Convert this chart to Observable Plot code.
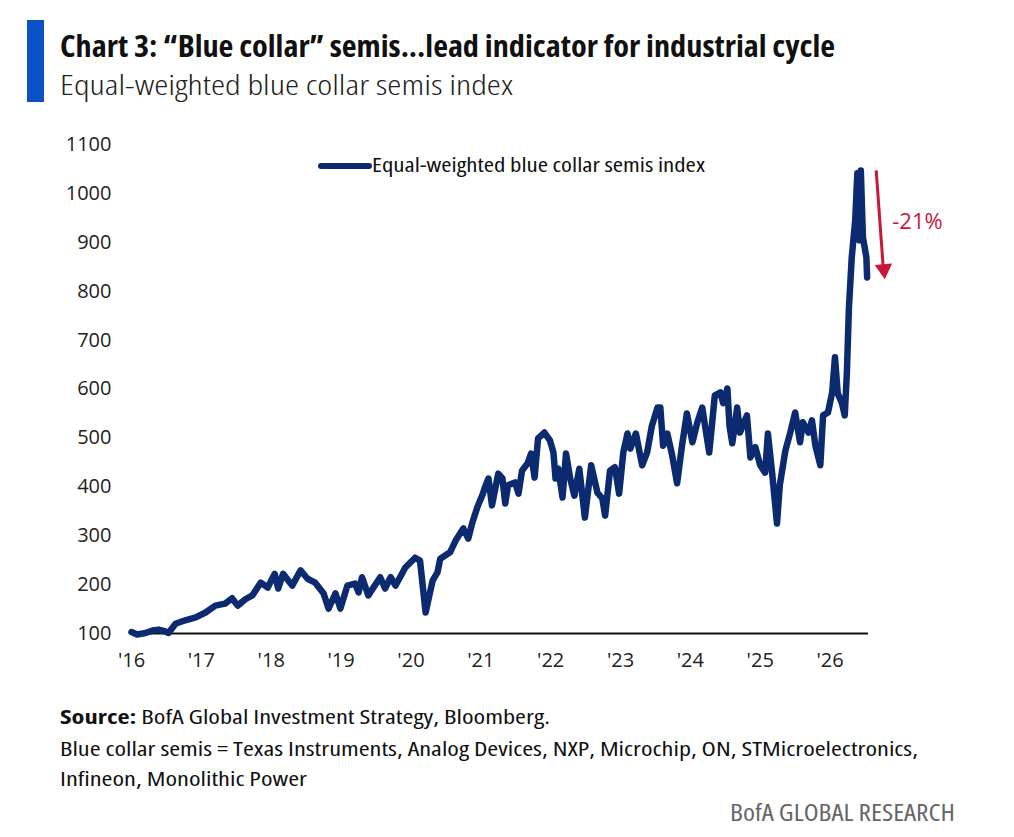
<!DOCTYPE html>
<html>
<head>
<meta charset="utf-8">
<script src="https://cdn.jsdelivr.net/npm/d3@7"></script>
<script src="https://cdn.jsdelivr.net/npm/@observablehq/plot@0.6"></script>
<style>
  html, body { margin: 0; padding: 0; background: #fff; }
  body { width: 1014px; height: 837px; position: relative; overflow: hidden;
         font-family: "Open Sans", "Noto Sans", sans-serif; font-stretch: 75%; color: #111; }
  .abs { position: absolute; white-space: nowrap; line-height: 1; }
  .fit { display: inline-block; transform-origin: left center; }
  #bar { position: absolute; left: 27px; top: 20px; width: 17px; height: 82px; background: #0b51c5; }
  #title { left: 60px; top: 30px; font-size: 31px; font-weight: 700; color: #111; }
  #subtitle { left: 60px; top: 70px; font-size: 28px; font-weight: 300; color: #222; }
  #chart { position: absolute; left: 0; top: 130px; }
  #chart svg { font-stretch: normal; }
  #legend { left: 318px; top: 155px; font-size: 20px; color: #111; }
  #legend .sw { position: absolute; left: 0; top: 8px; width: 54px; height: 6px; border-radius: 3px; background: #0b2a6f; }
  #legend .lt { position: absolute; left: 54px; top: 0; }
  .foot { left: 60px; font-size: 20px; color: #111; }
  #f1 { top: 707px; }
  #f2 { top: 739px; }
  #f3 { top: 769px; }
  #brand { left: 730px; top: 801px; font-size: 23px; color: #666; }
</style>
</head>
<body>
<div id="bar"></div>
<div class="abs" id="title"><span class="fit" data-w="775">Chart 3: “Blue collar” semis...lead indicator for industrial cycle</span></div>
<div class="abs" id="subtitle"><span class="fit" data-w="453">Equal-weighted blue collar semis index</span></div>
<div id="chart"></div>
<div class="abs" id="legend"><span class="sw"></span><span class="lt"><span class="fit" data-w="333">Equal-weighted blue collar semis index</span></span></div>
<div class="abs foot" id="f1"><span class="fit" data-w="490"><b>Source:</b> BofA Global Investment Strategy, Bloomberg.</span></div>
<div class="abs foot" id="f2"><span class="fit" data-w="858">Blue collar semis = Texas Instruments, Analog Devices, NXP, Microchip, ON, STMicroelectronics,</span></div>
<div class="abs foot" id="f3"><span class="fit" data-w="247">Infineon, Monolithic Power</span></div>
<div class="abs" id="brand"><span class="fit" data-w="225">BofA GLOBAL RESEARCH</span></div>
<script>
// ---- data ----
const years = [
  2016.00, 2016.08, 2016.20, 2016.30, 2016.39, 2016.47, 2016.53, 2016.63, 2016.77, 2016.92,
  2017.06, 2017.20, 2017.34, 2017.44, 2017.52, 2017.63, 2017.73, 2017.85, 2017.95,
  2018.05, 2018.10, 2018.17, 2018.30, 2018.42, 2018.52, 2018.63, 2018.75, 2018.82, 2018.92, 2018.99,
  2019.09, 2019.20, 2019.25, 2019.30, 2019.39, 2019.56, 2019.63, 2019.71, 2019.78, 2019.92,
  2020.06, 2020.13, 2020.21, 2020.31, 2020.38, 2020.42, 2020.56, 2020.64, 2020.75, 2020.82, 2020.88, 2020.95,
  2021.02, 2021.06, 2021.11, 2021.16, 2021.25, 2021.31, 2021.35, 2021.39, 2021.49, 2021.54, 2021.59, 2021.67, 2021.72, 2021.77, 2021.82, 2021.91, 2021.99,
  2022.04, 2022.07, 2022.11, 2022.17, 2022.22, 2022.28, 2022.34, 2022.41, 2022.49, 2022.58, 2022.67, 2022.74, 2022.78, 2022.85, 2022.92, 2022.98,
  2023.04, 2023.10, 2023.14, 2023.22, 2023.31, 2023.38, 2023.45, 2023.53, 2023.57, 2023.61, 2023.67, 2023.74, 2023.81, 2023.88, 2023.95,
  2024.03, 2024.10, 2024.17, 2024.21, 2024.27, 2024.35, 2024.43, 2024.47, 2024.53, 2024.56, 2024.60, 2024.67, 2024.71, 2024.81, 2024.86, 2024.93,
  2025.00, 2025.07, 2025.11, 2025.17, 2025.24, 2025.28, 2025.36, 2025.43, 2025.50, 2025.57, 2025.61, 2025.69, 2025.74, 2025.79, 2025.86, 2025.90, 2025.97,
  2026.03, 2026.07, 2026.11, 2026.17, 2026.21, 2026.24, 2026.27, 2026.31, 2026.36, 2026.39, 2026.42, 2026.44, 2026.47, 2026.52, 2026.53
];
const indexValues = [
  103, 98, 101, 106, 108, 105, 101, 120, 127, 133,
  143, 157, 161, 172, 157, 170, 178, 204, 194,
  222, 192, 222, 198, 229, 212, 204, 182, 151, 182, 151,
  198, 202, 184, 215, 178, 215, 192, 215, 198, 235,
  255, 249, 143, 208, 225, 253, 266, 290, 315, 294, 327, 358,
  382, 399, 417, 362, 427, 417, 366, 403, 409, 386, 433, 448, 468, 419, 499, 511, 495,
  470, 417, 437, 378, 468, 417, 382, 437, 337, 444, 388, 376, 341, 433, 440, 386,
  470, 509, 478, 509, 444, 470, 525, 562, 562, 484, 509, 464, 407, 484, 550,
  491, 532, 562, 525, 470, 587, 593, 571, 601, 525, 489, 562, 511, 546, 460, 481,
  444, 429, 509, 429, 325, 403, 474, 511, 552, 491, 532, 511, 536, 484, 444, 546, 552,
  593, 665, 591, 571, 546, 632, 767, 869, 945, 1041, 904, 1047, 910, 869, 828
];
const yTicks = [100, 200, 300, 400, 500, 600, 700, 800, 900, 1000, 1100];
const xTicks = [2016, 2017, 2018, 2019, 2020, 2021, 2022, 2023, 2024, 2025, 2026];
const seriesName = "Equal-weighted blue collar semis index";
// annotation: drawdown arrow from peak
const arrowYears = [2026.66, 2026.76];
const arrowValues = [1047, 850];
const arrowHead = {year: 2026.77, value: 845};
const dropLabel = {year: 2026.89, value: 942, text: "-21%"};

const data = years.map((y, i) => ({year: y, value: indexValues[i]}));

const navy = "#0b2a6f";
const red = "#c8173a";

const chart = Plot.plot({
  width: 1014,
  height: 548,
  marginTop: 14,
  marginBottom: 45,
  marginLeft: 131,
  marginRight: 146,
  style: {fontFamily: "'Open Sans', 'Noto Sans', sans-serif", fontSize: "20px", color: "#222"},
  x: {domain: [2016, 2026.55]},
  y: {domain: [100, 1100]},
  marks: [
    Plot.axisY({ticks: yTicks, tickSize: 0, tickPadding: 20, label: null, fontSize: 20, tickFormat: d => String(d)}),
    Plot.axisX({ticks: xTicks, tickSize: 0, tickPadding: 19, label: null, fontSize: 20, tickFormat: d => "'" + String(d).slice(2)}),
    Plot.ruleY([100], {stroke: "#111", strokeWidth: 2}),
    Plot.line(data, {x: "year", y: "value", stroke: navy, strokeWidth: 6.5, strokeLinejoin: "round", strokeLinecap: "round"}),
    Plot.link([0], {x1: () => arrowYears[0], y1: () => arrowValues[0], x2: () => arrowYears[1], y2: () => arrowValues[1], stroke: red, strokeWidth: 3}),
    Plot.dot([arrowHead], {x: "year", y: "value", symbol: "triangle", r: 6.5, fill: red, stroke: "none", rotate: 175}),
    Plot.text([dropLabel], {x: "year", y: "value", text: "text", fill: red, fontSize: 22, textAnchor: "start"})
  ]
});
document.getElementById("chart").appendChild(chart);

// fit condensed text to measured widths of the reference
document.querySelectorAll(".fit").forEach(el => {
  const target = +el.dataset.w;
  const w = el.getBoundingClientRect().width;
  if (w > 0) el.style.transform = `scaleX(${target / w})`;
});
</script>
</body>
</html>
